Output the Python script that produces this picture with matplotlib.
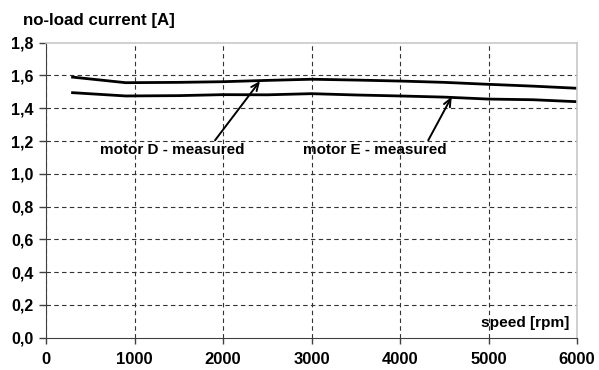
import matplotlib
matplotlib.use('Agg')
import matplotlib.pyplot as plt

# speed [rpm] and no-load current [A]
speed_d = [300, 900, 1500, 2000, 2500, 3000, 3500, 4000, 4500, 5000, 5500, 6000]
current_d = [1.590, 1.556, 1.558, 1.562, 1.570, 1.577, 1.572, 1.566, 1.558, 1.546, 1.535, 1.522]

speed_e = [300, 900, 1500, 2000, 2500, 3000, 3500, 4000, 4500, 5000, 5500, 6000]
current_e = [1.495, 1.475, 1.477, 1.483, 1.482, 1.489, 1.481, 1.475, 1.468, 1.456, 1.452, 1.440]

x_ticks = [0, 1000, 2000, 3000, 4000, 5000, 6000]
y_ticks = [0.0, 0.2, 0.4, 0.6, 0.8, 1.0, 1.2, 1.4, 1.6, 1.8]

plt.rcParams['font.family'] = ['Liberation Sans', 'DejaVu Sans']
plt.rcParams['font.weight'] = 'bold'

fig = plt.figure(figsize=(5.99, 3.70), dpi=100)
ax = fig.add_axes([0.0768, 0.0873, 0.8865, 0.7973])

ax.plot(speed_d, current_d, color='black', linewidth=2)
ax.plot(speed_e, current_e, color='black', linewidth=2)

ax.set_xlim(0, 6000)
ax.set_ylim(0, 1.8)
ax.set_xticks(x_ticks)
ax.set_yticks(y_ticks)
ax.set_yticklabels([f'{v:.1f}'.replace('.', ',') for v in y_ticks])
ax.tick_params(axis='y', labelsize=11.5, length=5, width=1, color='#404040', pad=4)
ax.tick_params(axis='x', labelsize=12, length=4, width=1, color='#404040', pad=6)
for lbl in ax.get_xticklabels() + ax.get_yticklabels():
    lbl.set_fontweight('bold')

ax.grid(True, linestyle=(0, (4, 3)), color='#333333', linewidth=0.8)
ax.yaxis.get_gridlines()[-1].set_visible(False)
ax.yaxis.get_gridlines()[0].set_visible(False)
ax.set_axisbelow(True)

for side in ['top', 'right']:
    ax.spines[side].set_color('#c8c8c8')
    ax.spines[side].set_linewidth(1.2)
ax.spines['left'].set_color('#404040')
ax.spines['bottom'].set_color('#404040')

arrow = dict(arrowstyle='->,head_length=0.5,head_width=0.22', color='black',
             lw=1.4, shrinkA=0, shrinkB=0)
ax.annotate('motor D - measured', xy=(2418, 1.566), xytext=(1429, 1.145),
            ha='center', va='center', fontsize=11, fontweight='bold',
            arrowprops=dict(arrow, relpos=(0.78, 1.0)))
ax.annotate('motor E - measured', xy=(4584, 1.470), xytext=(3718, 1.145),
            ha='center', va='center', fontsize=11, fontweight='bold',
            arrowprops=dict(arrow, relpos=(0.86, 1.0)))

ax.text(5910, 0.088, 'speed [rpm]', ha='right', va='center',
        fontsize=11.1, fontweight='bold')
fig.text(0.038, 0.945, 'no-load current [A]', ha='left', va='center',
         fontsize=12.2, fontweight='bold')

fig.savefig('out.png', dpi=100, facecolor='white')
